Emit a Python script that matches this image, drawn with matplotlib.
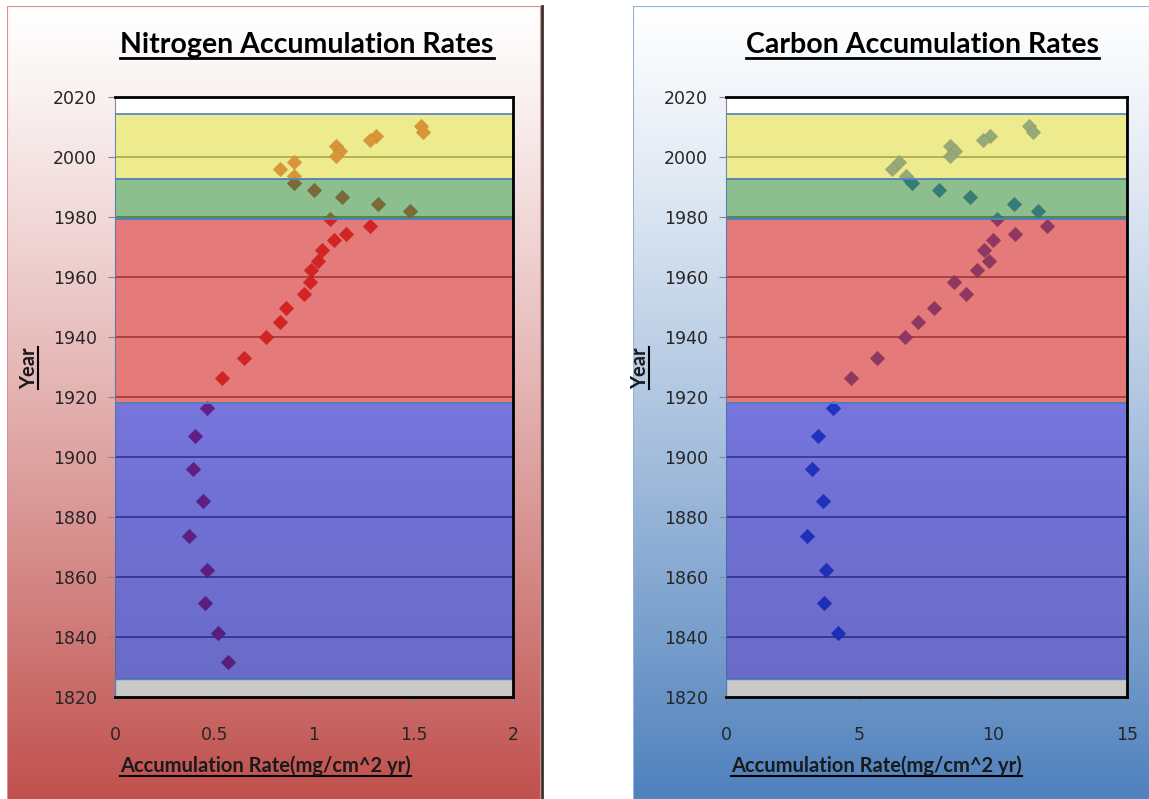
import numpy as np
import matplotlib
matplotlib.use('Agg')
import matplotlib.pyplot as plt
from matplotlib.patches import Rectangle
from matplotlib.lines import Line2D
from matplotlib.ticker import FuncFormatter

# sediment core years (top -> bottom)
years = [2010.4, 2008.4, 2007.1, 2005.6, 2003.8, 2002.1, 2000.2, 1998.5, 1996.0,
         1993.6, 1991.3, 1989.1, 1986.6, 1984.4, 1982.0, 1979.4, 1977.0, 1974.5,
         1972.2, 1969.0, 1965.5, 1962.3, 1958.3, 1954.5, 1949.6, 1945.1, 1939.9,
         1933.0, 1926.3, 1916.5, 1907.1, 1896.1, 1885.3, 1873.8, 1862.5, 1851.3,
         1841.4, 1831.6]
nitrogen_rate = [1.54, 1.55, 1.31, 1.28, 1.11, 1.13, 1.11, 0.90, 0.83,
                 0.90, 0.90, 1.00, 1.14, 1.32, 1.48, 1.08, 1.28, 1.16,
                 1.10, 1.04, 1.02, 0.985, 0.98, 0.95, 0.86, 0.83, 0.76,
                 0.65, 0.54, 0.46, 0.40, 0.39, 0.44, 0.37, 0.46, 0.45,
                 0.52, 0.57]
carbon_rate = [11.35, 11.47, 9.86, 9.61, 8.39, 8.58, 8.39, 6.49, 6.20,
               6.73, 6.95, 7.95, 9.11, 10.76, 11.66, 10.14, 11.99, 10.80,
               9.99, 9.64, 9.83, 9.39, 8.51, 8.98, 7.79, 7.20, 6.68,
               5.64, 4.67, 4.00, 3.44, 3.21, 3.63, 3.03, 3.73, 3.65,
               4.18]

# period bands (semi-transparent overlays)
band_bottom = [1826, 1918, 1979.4, 1992.7]
band_top = [1918, 1979.4, 1992.7, 2014.2]
band_color = ['#1919C5', '#D52121', '#419343', '#E1DE43']

W, H = 1149, 799
plt.rcParams['font.family'] = ['Lato', 'DejaVu Sans']

fig = plt.figure(figsize=(W / 100, H / 100), dpi=100)


def px(x0, y0, x1, y1):
    return [x0 / W, 1 - y1 / H, (x1 - x0) / W, (y1 - y0) / H]


def panel_bg(rect, bottom_rgb, edge, power=1.15):
    bg = fig.add_axes(rect, zorder=0)
    t = np.linspace(0, 1, 300)[:, None] ** power
    top = np.array([1.0, 1.0, 1.0])
    bot = np.array(bottom_rgb) / 255
    img = (1 - t)[:, :, None] * top + t[:, :, None] * bot
    bg.imshow(img, extent=[0, 1, 0, 1], aspect='auto')
    bg.add_patch(Rectangle((0, 0), 1, 1, transform=bg.transAxes, fill=False,
                           edgecolor=edge, lw=1.5))
    bg.set_axis_off()
    return bg


panel_bg(px(7, 6, 541, 800), (192, 80, 77), '#E08A8A')
panel_bg(px(633, 6, 1150, 800), (79, 129, 189), '#95B3D7')
fig.add_artist(Line2D([542 / W, 542 / W], [0, 1 - 6 / H], color='#333333', lw=2))


def make_panel(rect, xvals, yvals, xmax, xstep, point_color, title, tx):
    ax = fig.add_axes(rect, zorder=1)
    ax.set_facecolor('white')
    ax.set_axisbelow(True)
    ax.yaxis.grid(True, color='#5a5a5a', lw=1.2)
    ax.scatter(xvals, yvals, marker='D', s=56, color=point_color,
               edgecolors='#00000040', linewidths=0.6, zorder=2)
    for b0, b1, c in zip(band_bottom, band_top, band_color):
        ax.axhspan(b0, b1, facecolor=matplotlib.colors.to_rgba(c, 0.6),
                   edgecolor='#4F81BD', lw=1.2, zorder=3)
    # the lowest band darkens slightly towards the bottom
    shade = np.zeros((100, 1, 4))
    shade[:, 0, 3] = np.linspace(0, 0.09, 100)
    ax.imshow(shade, extent=[0, xmax, band_bottom[0], band_top[0]], aspect='auto',
              zorder=3.1)
    ax.axhspan(1820, 1826, facecolor='#C9C9C9', edgecolor='#4F81BD', lw=1, zorder=3)
    ax.set_xlim(0, xmax)
    ax.set_ylim(1820, 2020)
    ax.set_yticks(np.arange(1820, 2021, 20))
    ax.set_xticks(np.arange(0, xmax + 1e-9, xstep))
    ax.xaxis.set_major_formatter(FuncFormatter(lambda v, p: '%g' % v))
    for s in ['top', 'right', 'bottom']:
        ax.spines[s].set_color('black')
        ax.spines[s].set_linewidth(2)
        ax.spines[s].set_zorder(4)
    ax.spines['left'].set_color('#868686')
    ax.tick_params(axis='y', length=5, color='#868686', pad=8, labelsize=12.5,
                   labelcolor='#262626')
    ax.tick_params(axis='x', length=4, color='#868686', pad=17, labelsize=12.5,
                   labelcolor='#262626')
    for lab in ax.get_xticklabels() + ax.get_yticklabels():
        lab.set_family(['DejaVu Sans'])

    t_title = fig.text(tx, 1 - 53 / H, title, ha='center', va='baseline',
                       fontsize=20.5, fontweight='bold', color='black')
    t_x = fig.text(rect[0] + 5 / W, 1 - 772 / H, 'Accumulation Rate(mg/cm^2 yr)',
                   ha='left', va='baseline', fontsize=14.5, fontweight='bold',
                   color='#1a1a1a')
    t_y = fig.text(rect[0] - 86 / W, 1 - 368 / H, 'Year', ha='center', va='center',
                   rotation=90, fontsize=14.5, fontweight='bold', color='#1a1a1a')
    return t_title, t_x, t_y


texts = []
texts.append(make_panel(px(115, 97, 513, 697), nitrogen_rate, years, 2, 0.5,
                        '#D72828', 'Nitrogen Accumulation Rates', 307 / W))
texts.append(make_panel(px(726, 97, 1127, 697), carbon_rate, years[:len(carbon_rate)],
                        15, 5, '#285AC8', 'Carbon Accumulation Rates', 922 / W))

# underlines
fig.canvas.draw()
r = fig.canvas.get_renderer()
for t_title, t_x, t_y in texts:
    for t, base, lw in [(t_title, 58, 2), (t_x, 776, 1.5)]:
        bb = t.get_window_extent(r)
        fig.add_artist(Line2D([bb.x0 / W, bb.x1 / W], [1 - base / H, 1 - base / H],
                              color='black', lw=lw))
    bb = t_y.get_window_extent(r)
    fig.add_artist(Line2D([(bb.x1 - 1) / W, (bb.x1 - 1) / W], [bb.y0 / H, bb.y1 / H],
                          color='black', lw=1.5))

fig.savefig('out.png', dpi=100)
